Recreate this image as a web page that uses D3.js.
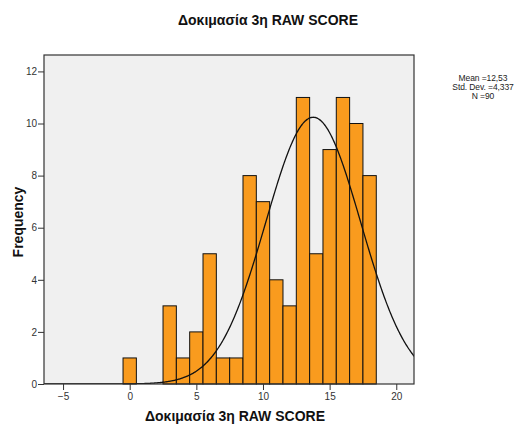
<!DOCTYPE html>
<html>
<head>
<meta charset="utf-8">
<script src="https://cdn.jsdelivr.net/npm/d3@7"></script>
<style>
  body { margin: 0; background: #fff; }
  text { font-family: "Liberation Sans", Arial, sans-serif; }
</style>
</head>
<body>
<svg id="chart"></svg>
<script>
// histogram bins (centre of each bin) and counts
const scores = [0, 3, 4, 5, 6, 7, 8, 9, 10, 11, 12, 13, 14, 15, 16, 17, 18];
const counts = [1, 3, 1, 2, 5, 1, 1, 8, 7, 4, 3, 11, 5, 9, 11, 10, 8];
const xTicks = [-5, 0, 5, 10, 15, 20];
const yTicks = [0, 2, 4, 6, 8, 10, 12];
const statLines = ["Mean =12,53", "Std. Dev. =4,337", "N =90"];
// normal curve as drawn in the picture (peak position, spread, peak height)
const curveMean = 13.77, curveSd = 3.56, curvePeak = 10.24;

const width = 517, height = 430;
const plot = { left: 44, right: 414, top: 55, bottom: 384 };

const svg = d3.select("#chart").attr("width", width).attr("height", height);

const x = d3.scaleLinear().domain([-6.43, 21.33]).range([plot.left, plot.right]);
const y = d3.scaleLinear().domain([0, 12.63]).range([plot.bottom, plot.top]);

svg.append("defs").append("clipPath").attr("id", "plotClip")
  .append("rect")
  .attr("x", plot.left).attr("y", plot.top)
  .attr("width", plot.right - plot.left).attr("height", plot.bottom - plot.top);

svg.append("rect")
  .attr("x", plot.left).attr("y", plot.top)
  .attr("width", plot.right - plot.left).attr("height", plot.bottom - plot.top)
  .attr("fill", "#f0f0f0");

svg.append("g").selectAll("rect")
  .data(scores)
  .join("rect")
  .attr("x", d => x(d - 0.5))
  .attr("y", (d, i) => y(counts[i]))
  .attr("width", d => x(d + 0.5) - x(d - 0.5))
  .attr("height", (d, i) => y(0) - y(counts[i]))
  .attr("fill", "#f99b1e")
  .attr("stroke", "#111")
  .attr("stroke-width", 1);

const curveX = d3.range(x.domain()[0], x.domain()[1] + 0.05, 0.05);
const line = d3.line()
  .x(d => x(d))
  .y(d => y(curvePeak * Math.exp(-((d - curveMean) ** 2) / (2 * curveSd * curveSd))))
  .curve(d3.curveBasis);

svg.append("path")
  .datum(curveX)
  .attr("clip-path", "url(#plotClip)")
  .attr("d", line)
  .attr("fill", "none")
  .attr("stroke", "#111")
  .attr("stroke-width", 1.3);

// frame
svg.append("rect")
  .attr("x", plot.left).attr("y", plot.top)
  .attr("width", plot.right - plot.left).attr("height", plot.bottom - plot.top)
  .attr("fill", "none")
  .attr("stroke", "#333")
  .attr("stroke-width", 1.2);

const xAxis = svg.append("g")
  .attr("transform", `translate(0,${plot.bottom})`)
  .call(d3.axisBottom(x).tickValues(xTicks).tickSize(6).tickPadding(3));
const yAxis = svg.append("g")
  .attr("transform", `translate(${plot.left},0)`)
  .call(d3.axisLeft(y).tickValues(yTicks).tickSize(6).tickPadding(1));

[xAxis, yAxis].forEach(g => {
  g.select(".domain").remove();
  g.selectAll(".tick line").attr("stroke", "#333");
  g.selectAll(".tick text")
    .attr("fill", "#333")
    .style("font-family", "'Liberation Sans', Arial, sans-serif")
    .style("font-size", "10px");
});

svg.append("text")
  .attr("x", 268).attr("y", 25)
  .attr("text-anchor", "middle")
  .style("font-size", "14px").style("font-weight", "bold")
  .attr("fill", "#111")
  .text("Δοκιμασία 3η RAW SCORE");

svg.append("text")
  .attr("x", 235).attr("y", 421)
  .attr("text-anchor", "middle")
  .style("font-size", "14px").style("font-weight", "bold")
  .attr("fill", "#111")
  .text("Δοκιμασία 3η RAW SCORE");

svg.append("text")
  .attr("transform", "translate(23,222) rotate(-90)")
  .attr("text-anchor", "middle")
  .style("font-size", "14px").style("font-weight", "bold")
  .attr("fill", "#111")
  .text("Frequency");

svg.append("g").selectAll("text")
  .data(statLines)
  .join("text")
  .attr("x", 483)
  .attr("y", (d, i) => 81 + i * 9)
  .attr("text-anchor", "middle")
  .style("font-size", "8.5px")
  .style("letter-spacing", "-0.1px")
  .attr("fill", "#222")
  .text(d => d);
</script>
</body>
</html>
